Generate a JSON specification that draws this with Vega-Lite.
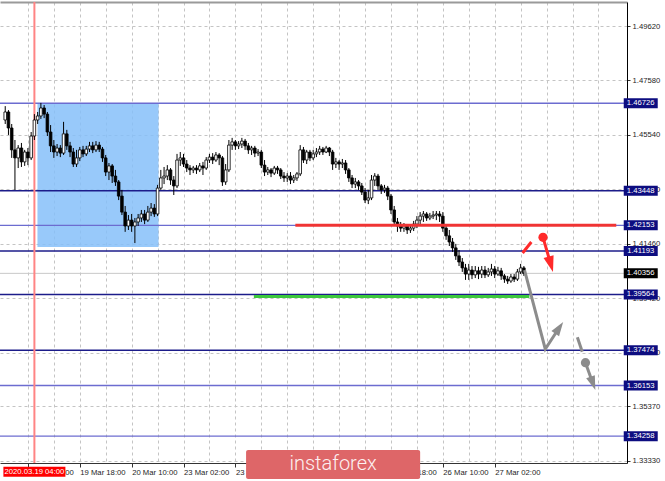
{
  "$schema": "https://vega.github.io/schema/vega-lite/v6.json",
  "width": 627,
  "height": 461,
  "autosize": {"type": "none"},
  "padding": {"left": 0, "top": 2, "right": 38, "bottom": 18},
  "background": "white",
  "config": {
    "view": {"stroke": null},
    "axis": {"labelFont": "Liberation Sans", "labelFontSize": 7.7, "labelColor": "#1e1e1e", "title": null}
  },
  "datasets": {
    "bars": [
      {"t":-7,"o":1.4610,"h":1.4662,"l":1.4595,"c":1.4640},
      {"t":-6,"o":1.4640,"h":1.4647,"l":1.4554,"c":1.4580},
      {"t":-5,"o":1.4580,"h":1.4595,"l":1.4468,"c":1.4498},
      {"t":-4,"o":1.4498,"h":1.4535,"l":1.4348,"c":1.4468},
      {"t":-3,"o":1.4468,"h":1.4516,"l":1.4430,"c":1.4505},
      {"t":-2,"o":1.4505,"h":1.4524,"l":1.4434,"c":1.4453},
      {"t":-1,"o":1.4453,"h":1.4498,"l":1.4438,"c":1.4490},
      {"t":0,"o":1.4490,"h":1.4505,"l":1.4441,"c":1.4468},
      {"t":1,"o":1.4468,"h":1.4565,"l":1.4460,"c":1.4550},
      {"t":2,"o":1.4550,"h":1.4632,"l":1.4535,"c":1.4610},
      {"t":3,"o":1.4610,"h":1.4640,"l":1.4595,"c":1.4625},
      {"t":4,"o":1.4625,"h":1.4674,"l":1.4614,"c":1.4655},
      {"t":5,"o":1.4655,"h":1.4666,"l":1.4617,"c":1.4632},
      {"t":6,"o":1.4632,"h":1.4640,"l":1.4550,"c":1.4565},
      {"t":7,"o":1.4565,"h":1.4591,"l":1.4490,"c":1.4513},
      {"t":8,"o":1.4513,"h":1.4535,"l":1.4468,"c":1.4490},
      {"t":9,"o":1.4490,"h":1.4520,"l":1.4475,"c":1.4505},
      {"t":10,"o":1.4505,"h":1.4516,"l":1.4471,"c":1.4486},
      {"t":11,"o":1.4486,"h":1.4603,"l":1.4479,"c":1.4558},
      {"t":12,"o":1.4558,"h":1.4573,"l":1.4498,"c":1.4513},
      {"t":13,"o":1.4513,"h":1.4528,"l":1.4471,"c":1.4490},
      {"t":14,"o":1.4490,"h":1.4505,"l":1.4434,"c":1.4445},
      {"t":15,"o":1.4445,"h":1.4498,"l":1.4434,"c":1.4468},
      {"t":16,"o":1.4468,"h":1.4509,"l":1.4456,"c":1.4498},
      {"t":17,"o":1.4498,"h":1.4513,"l":1.4471,"c":1.4483},
      {"t":18,"o":1.4483,"h":1.4513,"l":1.4475,"c":1.4501},
      {"t":19,"o":1.4501,"h":1.4528,"l":1.4490,"c":1.4513},
      {"t":20,"o":1.4513,"h":1.4528,"l":1.4486,"c":1.4498},
      {"t":21,"o":1.4498,"h":1.4531,"l":1.4490,"c":1.4516},
      {"t":22,"o":1.4516,"h":1.4528,"l":1.4490,"c":1.4501},
      {"t":23,"o":1.4501,"h":1.4509,"l":1.4453,"c":1.4468},
      {"t":24,"o":1.4468,"h":1.4479,"l":1.4400,"c":1.4415},
      {"t":25,"o":1.4415,"h":1.4449,"l":1.4385,"c":1.4438},
      {"t":26,"o":1.4438,"h":1.4445,"l":1.4374,"c":1.4400},
      {"t":27,"o":1.4400,"h":1.4423,"l":1.4363,"c":1.4378},
      {"t":28,"o":1.4378,"h":1.4385,"l":1.4310,"c":1.4325},
      {"t":29,"o":1.4325,"h":1.4348,"l":1.4254,"c":1.4265},
      {"t":30,"o":1.4265,"h":1.4288,"l":1.4191,"c":1.4213},
      {"t":31,"o":1.4213,"h":1.4254,"l":1.4198,"c":1.4235},
      {"t":32,"o":1.4235,"h":1.4258,"l":1.4191,"c":1.4213},
      {"t":33,"o":1.4213,"h":1.4243,"l":1.4149,"c":1.4228},
      {"t":34,"o":1.4228,"h":1.4258,"l":1.4213,"c":1.4243},
      {"t":35,"o":1.4243,"h":1.4273,"l":1.4228,"c":1.4258},
      {"t":36,"o":1.4258,"h":1.4273,"l":1.4220,"c":1.4235},
      {"t":37,"o":1.4235,"h":1.4288,"l":1.4228,"c":1.4265},
      {"t":38,"o":1.4265,"h":1.4299,"l":1.4250,"c":1.4280},
      {"t":39,"o":1.4280,"h":1.4295,"l":1.4247,"c":1.4258},
      {"t":40,"o":1.4258,"h":1.4367,"l":1.4250,"c":1.4355},
      {"t":41,"o":1.4355,"h":1.4423,"l":1.4348,"c":1.4393},
      {"t":42,"o":1.4393,"h":1.4434,"l":1.4370,"c":1.4400},
      {"t":43,"o":1.4400,"h":1.4441,"l":1.4385,"c":1.4423},
      {"t":44,"o":1.4423,"h":1.4430,"l":1.4367,"c":1.4385},
      {"t":45,"o":1.4385,"h":1.4400,"l":1.4329,"c":1.4363},
      {"t":46,"o":1.4363,"h":1.4483,"l":1.4355,"c":1.4460},
      {"t":47,"o":1.4460,"h":1.4490,"l":1.4438,"c":1.4468},
      {"t":48,"o":1.4468,"h":1.4483,"l":1.4434,"c":1.4445},
      {"t":49,"o":1.4445,"h":1.4460,"l":1.4415,"c":1.4430},
      {"t":50,"o":1.4430,"h":1.4441,"l":1.4404,"c":1.4423},
      {"t":51,"o":1.4423,"h":1.4438,"l":1.4411,"c":1.4430},
      {"t":52,"o":1.4430,"h":1.4441,"l":1.4408,"c":1.4423},
      {"t":53,"o":1.4423,"h":1.4449,"l":1.4415,"c":1.4438},
      {"t":54,"o":1.4438,"h":1.4453,"l":1.4404,"c":1.4430},
      {"t":55,"o":1.4430,"h":1.4471,"l":1.4423,"c":1.4460},
      {"t":56,"o":1.4460,"h":1.4483,"l":1.4449,"c":1.4471},
      {"t":57,"o":1.4471,"h":1.4486,"l":1.4445,"c":1.4460},
      {"t":58,"o":1.4460,"h":1.4490,"l":1.4453,"c":1.4479},
      {"t":59,"o":1.4479,"h":1.4486,"l":1.4441,"c":1.4468},
      {"t":60,"o":1.4468,"h":1.4475,"l":1.4363,"c":1.4378},
      {"t":61,"o":1.4378,"h":1.4445,"l":1.4367,"c":1.4423},
      {"t":62,"o":1.4423,"h":1.4535,"l":1.4415,"c":1.4516},
      {"t":63,"o":1.4516,"h":1.4543,"l":1.4498,"c":1.4528},
      {"t":64,"o":1.4528,"h":1.4535,"l":1.4498,"c":1.4513},
      {"t":65,"o":1.4513,"h":1.4531,"l":1.4501,"c":1.4520},
      {"t":66,"o":1.4520,"h":1.4543,"l":1.4505,"c":1.4531},
      {"t":67,"o":1.4531,"h":1.4539,"l":1.4498,"c":1.4513},
      {"t":68,"o":1.4513,"h":1.4524,"l":1.4483,"c":1.4498},
      {"t":69,"o":1.4498,"h":1.4513,"l":1.4479,"c":1.4505},
      {"t":70,"o":1.4505,"h":1.4513,"l":1.4471,"c":1.4486},
      {"t":71,"o":1.4486,"h":1.4501,"l":1.4475,"c":1.4490},
      {"t":72,"o":1.4490,"h":1.4498,"l":1.4430,"c":1.4441},
      {"t":73,"o":1.4441,"h":1.4460,"l":1.4400,"c":1.4415},
      {"t":74,"o":1.4415,"h":1.4434,"l":1.4404,"c":1.4423},
      {"t":75,"o":1.4423,"h":1.4430,"l":1.4396,"c":1.4411},
      {"t":76,"o":1.4411,"h":1.4438,"l":1.4404,"c":1.4430},
      {"t":77,"o":1.4430,"h":1.4438,"l":1.4408,"c":1.4423},
      {"t":78,"o":1.4423,"h":1.4430,"l":1.4389,"c":1.4400},
      {"t":79,"o":1.4400,"h":1.4415,"l":1.4378,"c":1.4393},
      {"t":80,"o":1.4393,"h":1.4411,"l":1.4378,"c":1.4400},
      {"t":81,"o":1.4400,"h":1.4415,"l":1.4370,"c":1.4385},
      {"t":82,"o":1.4385,"h":1.4404,"l":1.4374,"c":1.4393},
      {"t":83,"o":1.4393,"h":1.4415,"l":1.4382,"c":1.4408},
      {"t":84,"o":1.4408,"h":1.4516,"l":1.4400,"c":1.4498},
      {"t":85,"o":1.4498,"h":1.4509,"l":1.4449,"c":1.4460},
      {"t":86,"o":1.4460,"h":1.4498,"l":1.4445,"c":1.4490},
      {"t":87,"o":1.4490,"h":1.4498,"l":1.4456,"c":1.4468},
      {"t":88,"o":1.4468,"h":1.4498,"l":1.4460,"c":1.4483},
      {"t":89,"o":1.4483,"h":1.4505,"l":1.4471,"c":1.4490},
      {"t":90,"o":1.4490,"h":1.4513,"l":1.4479,"c":1.4501},
      {"t":91,"o":1.4501,"h":1.4509,"l":1.4479,"c":1.4490},
      {"t":92,"o":1.4490,"h":1.4513,"l":1.4486,"c":1.4505},
      {"t":93,"o":1.4505,"h":1.4509,"l":1.4475,"c":1.4490},
      {"t":94,"o":1.4490,"h":1.4498,"l":1.4423,"c":1.4445},
      {"t":95,"o":1.4445,"h":1.4468,"l":1.4430,"c":1.4453},
      {"t":96,"o":1.4453,"h":1.4460,"l":1.4423,"c":1.4445},
      {"t":97,"o":1.4445,"h":1.4464,"l":1.4430,"c":1.4449},
      {"t":98,"o":1.4449,"h":1.4460,"l":1.4408,"c":1.4423},
      {"t":99,"o":1.4423,"h":1.4430,"l":1.4378,"c":1.4393},
      {"t":100,"o":1.4393,"h":1.4404,"l":1.4355,"c":1.4370},
      {"t":101,"o":1.4370,"h":1.4393,"l":1.4355,"c":1.4378},
      {"t":102,"o":1.4378,"h":1.4385,"l":1.4348,"c":1.4363},
      {"t":103,"o":1.4363,"h":1.4374,"l":1.4329,"c":1.4340},
      {"t":104,"o":1.4340,"h":1.4355,"l":1.4299,"c":1.4310},
      {"t":105,"o":1.4310,"h":1.4348,"l":1.4295,"c":1.4318},
      {"t":106,"o":1.4318,"h":1.4404,"l":1.4310,"c":1.4385},
      {"t":107,"o":1.4385,"h":1.4411,"l":1.4363,"c":1.4400},
      {"t":108,"o":1.4400,"h":1.4408,"l":1.4348,"c":1.4363},
      {"t":109,"o":1.4363,"h":1.4370,"l":1.4333,"c":1.4348},
      {"t":110,"o":1.4348,"h":1.4367,"l":1.4337,"c":1.4355},
      {"t":111,"o":1.4355,"h":1.4363,"l":1.4310,"c":1.4325},
      {"t":112,"o":1.4325,"h":1.4333,"l":1.4258,"c":1.4273},
      {"t":113,"o":1.4273,"h":1.4288,"l":1.4213,"c":1.4228},
      {"t":114,"o":1.4228,"h":1.4243,"l":1.4191,"c":1.4213},
      {"t":115,"o":1.4213,"h":1.4228,"l":1.4191,"c":1.4205},
      {"t":116,"o":1.4205,"h":1.4224,"l":1.4191,"c":1.4213},
      {"t":117,"o":1.4213,"h":1.4220,"l":1.4183,"c":1.4198},
      {"t":118,"o":1.4198,"h":1.4217,"l":1.4187,"c":1.4205},
      {"t":119,"o":1.4205,"h":1.4232,"l":1.4194,"c":1.4220},
      {"t":120,"o":1.4220,"h":1.4250,"l":1.4205,"c":1.4235},
      {"t":121,"o":1.4235,"h":1.4265,"l":1.4220,"c":1.4250},
      {"t":122,"o":1.4250,"h":1.4269,"l":1.4228,"c":1.4258},
      {"t":123,"o":1.4258,"h":1.4265,"l":1.4232,"c":1.4243},
      {"t":124,"o":1.4243,"h":1.4262,"l":1.4235,"c":1.4250},
      {"t":125,"o":1.4250,"h":1.4269,"l":1.4239,"c":1.4254},
      {"t":126,"o":1.4254,"h":1.4269,"l":1.4235,"c":1.4258},
      {"t":127,"o":1.4258,"h":1.4269,"l":1.4228,"c":1.4250},
      {"t":128,"o":1.4250,"h":1.4265,"l":1.4191,"c":1.4205},
      {"t":129,"o":1.4205,"h":1.4220,"l":1.4161,"c":1.4176},
      {"t":130,"o":1.4176,"h":1.4198,"l":1.4138,"c":1.4153},
      {"t":131,"o":1.4153,"h":1.4168,"l":1.4116,"c":1.4131},
      {"t":132,"o":1.4131,"h":1.4146,"l":1.4086,"c":1.4101},
      {"t":133,"o":1.4101,"h":1.4123,"l":1.4063,"c":1.4078},
      {"t":134,"o":1.4078,"h":1.4093,"l":1.4041,"c":1.4056},
      {"t":135,"o":1.4056,"h":1.4071,"l":1.4011,"c":1.4033},
      {"t":136,"o":1.4033,"h":1.4071,"l":1.4011,"c":1.4048},
      {"t":137,"o":1.4048,"h":1.4063,"l":1.4014,"c":1.4030},
      {"t":138,"o":1.4030,"h":1.4063,"l":1.4018,"c":1.4045},
      {"t":139,"o":1.4045,"h":1.4060,"l":1.4014,"c":1.4033},
      {"t":140,"o":1.4033,"h":1.4063,"l":1.4018,"c":1.4048},
      {"t":141,"o":1.4048,"h":1.4063,"l":1.4018,"c":1.4030},
      {"t":142,"o":1.4030,"h":1.4056,"l":1.4022,"c":1.4041},
      {"t":143,"o":1.4041,"h":1.4071,"l":1.4026,"c":1.4052},
      {"t":144,"o":1.4052,"h":1.4063,"l":1.4018,"c":1.4033},
      {"t":145,"o":1.4033,"h":1.4060,"l":1.4026,"c":1.4045},
      {"t":146,"o":1.4045,"h":1.4056,"l":1.4011,"c":1.4026},
      {"t":147,"o":1.4026,"h":1.4033,"l":1.4000,"c":1.4014},
      {"t":148,"o":1.4014,"h":1.4026,"l":1.3996,"c":1.4007},
      {"t":149,"o":1.4007,"h":1.4033,"l":1.4000,"c":1.4022},
      {"t":150,"o":1.4022,"h":1.4033,"l":1.4003,"c":1.4014},
      {"t":151,"o":1.4014,"h":1.4052,"l":1.4007,"c":1.4041},
      {"t":152,"o":1.4041,"h":1.4071,"l":1.4033,"c":1.4056},
      {"t":153,"o":1.4056,"h":1.4063,"l":1.4026,"c":1.40356}
    ],
    "levels": [
      {"p":1.46726,"kind":"minor"},
      {"p":1.43448,"kind":"major"},
      {"p":1.42153,"kind":"minor"},
      {"p":1.41193,"kind":"major"},
      {"p":1.39564,"kind":"major"},
      {"p":1.37474,"kind":"major"},
      {"p":1.36153,"kind":"minor"},
      {"p":1.34258,"kind":"minor"}
    ],
    "last": [{"p":1.40356}],
    "zone": [{"t0":2.94,"t1":40.3,"p0":1.46726,"p1":1.41343}],
    "cursor": [{"t":2,"label":"2020.03.19 04:00"}],
    "segs": [
      {"kind":"resistance","p":1.42153,"t0":82.5,"t1":181.5},
      {"kind":"support","p":1.39489,"t0":69.7,"t1":154.7}
    ],
    "paths": [
      {"id":"alt1","kind":"alt","t":153.2,"p":1.40481},
      {"id":"alt1","kind":"alt","t":159.6,"p":1.37523},
      {"id":"alt1","kind":"alt","t":163.9,"p":1.38317},
      {"id":"sell1","kind":"sell","t":152.6,"p":1.41118},
      {"id":"sell1","kind":"sell","t":155.3,"p":1.41530},
      {"id":"sell2","kind":"sell","t":158.9,"p":1.41706},
      {"id":"sell2","kind":"sell","t":161.3,"p":1.40695},
      {"id":"alt2","kind":"alt","t":169.5,"p":1.37961},
      {"id":"alt2","kind":"alt","t":171.0,"p":1.37421},
      {"id":"alt3","kind":"alt","t":172.0,"p":1.37010},
      {"id":"alt3","kind":"alt","t":174.3,"p":1.36234}
    ],
    "dots": [
      {"kind":"sell","t":158.9,"p":1.41706},
      {"kind":"alt","t":172.0,"p":1.37010}
    ],
    "heads": [
      {"id":"up","kind":"alt","t":163.9,"p":1.38317},
      {"id":"sell","kind":"sell","t":161.3,"p":1.40695},
      {"id":"down","kind":"alt","t":174.3,"p":1.36234}
    ],
    "brand": [{"name":"instaforex","t0":67.3,"t1":121.0,"p0":1.33740,"p1":1.32654}]
  },
  "resolve": {"axis": {"x": "independent"}},
  "layer": [
    {
      "data": {"name": "zone"},
      "mark": {"type": "rect", "color": "#86bff9", "opacity": 0.85},
      "encoding": {
        "x": {"field": "t0", "type": "quantitative", "scale": {"domain": [-7.07, 183.27], "nice": false, "zero": false}, "axis": null},
        "x2": {"field": "t1"},
        "y": {"field": "p0", "type": "quantitative", "scale": {"domain": [1.33253, 1.50519], "nice": false, "zero": false},
              "axis": {"orient": "right", "title": null, "values": [1.3333,1.3435,1.3537,1.3638,1.3739,1.384,1.3942,1.4044,1.4146,1.4248,1.435,1.4452,1.4554,1.4656,1.4758,1.486,1.4962],
                       "format": ".5f", "tickSize": 3, "tickColor": "#333", "labelPadding": 2, "labelFlush": false, "labelBound": false, "labelOverlap": false,
                       "domainColor": "#000", "grid": true, "gridDash": [3, 3], "gridColor": "#c4c4c4"}},
        "y2": {"field": "p1"}
      }
    },
    {
      "data": {"name": "last"},
      "mark": {"type": "rule", "color": "#c8c8c8", "strokeWidth": 1},
      "encoding": {
        "y": {"field": "p", "type": "quantitative", "scale": {"domain": [1.33253, 1.50519], "nice": false, "zero": false}}
      }
    },
    {
      "data": {"name": "levels"},
      "mark": {"type": "rule", "strokeWidth": 1.4},
      "encoding": {
        "y": {"field": "p", "type": "quantitative", "scale": {"domain": [1.33253, 1.50519], "nice": false, "zero": false}},
        "color": {"condition": {"test": "datum.kind === 'major'", "value": "#1c1c8a"}, "value": "#6c6cd0"}
      }
    },
    {
      "data": {"name": "cursor"},
      "mark": {"type": "rule", "color": "#ff8484", "strokeWidth": 2},
      "encoding": {
        "x": {"field": "t", "type": "quantitative", "scale": {"domain": [-7.07, 183.27], "nice": false, "zero": false},
              "axis": {"orient": "top", "labels": false, "ticks": false, "grid": false, "domainColor": "#9a9a9a", "domainWidth": 2}}
      }
    },
    {
      "data": {"name": "bars"},
      "mark": {"type": "rule", "color": "#000", "strokeWidth": 1},
      "encoding": {
        "x": {"field": "t", "type": "quantitative", "scale": {"domain": [-7.07, 183.27], "nice": false, "zero": false},
              "axis": {"orient": "bottom", "values": [0,8,16,24,32,40,48,56,64,72,80,88,96,104,112,120,128,136,144,152,160,168,176],
                       "labelExpr": "datum.value % 16 === 0 && datum.value <= 144 ? ['19 Mar 02:00','19 Mar 18:00','20 Mar 10:00','23 Mar 02:00','23 Mar 18:00','24 Mar 10:00','25 Mar 02:00','25 Mar 18:00','26 Mar 10:00','27 Mar 02:00'][datum.value / 16] : ''",
                       "labelAlign": "left", "labelFlush": false, "labelBound": false, "labelOverlap": false, "labelPadding": 1,
                       "tickSize": 4, "tickColor": {"condition": {"test": "datum.value % 16 === 0 && datum.value <= 144", "value": "#333"}, "value": "transparent"},
                       "domainColor": "#333", "grid": true, "gridDash": [3, 3], "gridColor": "#c4c4c4"}},
        "y": {"field": "l", "type": "quantitative", "scale": {"domain": [1.33253, 1.50519], "nice": false, "zero": false}},
        "y2": {"field": "h"}
      }
    },
    {
      "data": {"name": "bars"},
      "mark": {"type": "bar", "size": 2.6, "stroke": "#000", "strokeWidth": 0.8},
      "encoding": {
        "x": {"field": "t", "type": "quantitative", "scale": {"domain": [-7.07, 183.27], "nice": false, "zero": false}, "axis": null},
        "y": {"field": "o", "type": "quantitative", "scale": {"domain": [1.33253, 1.50519], "nice": false, "zero": false}},
        "y2": {"field": "c"},
        "fill": {"condition": {"test": "datum.c >= datum.o", "value": "#ffffff"}, "value": "#000000"}
      }
    },
    {
      "data": {"name": "segs"},
      "mark": {"type": "rule", "strokeWidth": 3},
      "encoding": {
        "x": {"field": "t0", "type": "quantitative", "scale": {"domain": [-7.07, 183.27], "nice": false, "zero": false}, "axis": null},
        "x2": {"field": "t1"},
        "y": {"field": "p", "type": "quantitative", "scale": {"domain": [1.33253, 1.50519], "nice": false, "zero": false}},
        "color": {"condition": {"test": "datum.kind === 'support'", "value": "#3cc83c"}, "value": "#f03434"}
      }
    },
    {
      "data": {"name": "paths"},
      "mark": {"type": "line", "strokeWidth": 3, "strokeJoin": "miter"},
      "encoding": {
        "x": {"field": "t", "type": "quantitative", "scale": {"domain": [-7.07, 183.27], "nice": false, "zero": false}, "axis": null},
        "y": {"field": "p", "type": "quantitative", "scale": {"domain": [1.33253, 1.50519], "nice": false, "zero": false}},
        "detail": {"field": "id"},
        "color": {"condition": {"test": "datum.kind === 'sell'", "value": "#ff2a2a"}, "value": "#8c8c8c"}
      }
    },
    {
      "data": {"name": "dots"},
      "mark": {"type": "point", "shape": "circle", "filled": true, "size": 85, "opacity": 1},
      "encoding": {
        "x": {"field": "t", "type": "quantitative", "scale": {"domain": [-7.07, 183.27], "nice": false, "zero": false}, "axis": null},
        "y": {"field": "p", "type": "quantitative", "scale": {"domain": [1.33253, 1.50519], "nice": false, "zero": false}},
        "color": {"condition": {"test": "datum.kind === 'sell'", "value": "#ff2a2a"}, "value": "#8c8c8c"}
      }
    },
    {
      "data": {"name": "heads"},
      "transform": [{"filter": "datum.id === 'up'"}],
      "mark": {"type": "point", "shape": "M0,-1L0.65,1L-0.65,1Z", "filled": true, "size": 200, "angle": 34, "opacity": 1, "color": "#8c8c8c"},
      "encoding": {
        "x": {"field": "t", "type": "quantitative", "scale": {"domain": [-7.07, 183.27], "nice": false, "zero": false}, "axis": null},
        "y": {"field": "p", "type": "quantitative", "scale": {"domain": [1.33253, 1.50519], "nice": false, "zero": false}}
      }
    },
    {
      "data": {"name": "heads"},
      "transform": [{"filter": "datum.id === 'sell'"}],
      "mark": {"type": "point", "shape": "M0,-1L0.65,1L-0.65,1Z", "filled": true, "size": 256, "angle": 164, "opacity": 1, "color": "#ff2a2a"},
      "encoding": {
        "x": {"field": "t", "type": "quantitative", "scale": {"domain": [-7.07, 183.27], "nice": false, "zero": false}, "axis": null},
        "y": {"field": "p", "type": "quantitative", "scale": {"domain": [1.33253, 1.50519], "nice": false, "zero": false}}
      }
    },
    {
      "data": {"name": "heads"},
      "transform": [{"filter": "datum.id === 'down'"}],
      "mark": {"type": "point", "shape": "M0,-1L0.65,1L-0.65,1Z", "filled": true, "size": 200, "angle": 160, "opacity": 1, "color": "#8c8c8c"},
      "encoding": {
        "x": {"field": "t", "type": "quantitative", "scale": {"domain": [-7.07, 183.27], "nice": false, "zero": false}, "axis": null},
        "y": {"field": "p", "type": "quantitative", "scale": {"domain": [1.33253, 1.50519], "nice": false, "zero": false}}
      }
    },
    {
      "data": {"name": "levels"},
      "mark": {"type": "rect", "width": 34, "height": 10, "color": "#0d0d80", "clip": false},
      "encoding": {
        "x": {"datum": 189.05, "type": "quantitative", "scale": {"domain": [-7.07, 183.27], "nice": false, "zero": false}, "axis": null},
        "y": {"field": "p", "type": "quantitative", "scale": {"domain": [1.33253, 1.50519], "nice": false, "zero": false}}
      }
    },
    {
      "data": {"name": "levels"},
      "mark": {"type": "text", "color": "#ffffff", "font": "Liberation Sans", "fontSize": 7.7, "align": "center", "baseline": "middle", "clip": false},
      "encoding": {
        "x": {"datum": 189.05, "type": "quantitative", "scale": {"domain": [-7.07, 183.27], "nice": false, "zero": false}, "axis": null},
        "y": {"field": "p", "type": "quantitative", "scale": {"domain": [1.33253, 1.50519], "nice": false, "zero": false}},
        "text": {"field": "p", "format": ".5f"}
      }
    },
    {
      "data": {"name": "last"},
      "mark": {"type": "rect", "width": 34, "height": 10, "color": "#000000", "clip": false},
      "encoding": {
        "x": {"datum": 189.05, "type": "quantitative", "scale": {"domain": [-7.07, 183.27], "nice": false, "zero": false}, "axis": null},
        "y": {"field": "p", "type": "quantitative", "scale": {"domain": [1.33253, 1.50519], "nice": false, "zero": false}}
      }
    },
    {
      "data": {"name": "last"},
      "mark": {"type": "text", "color": "#ffffff", "font": "Liberation Sans", "fontSize": 7.7, "align": "center", "baseline": "middle", "clip": false},
      "encoding": {
        "x": {"datum": 189.05, "type": "quantitative", "scale": {"domain": [-7.07, 183.27], "nice": false, "zero": false}, "axis": null},
        "y": {"field": "p", "type": "quantitative", "scale": {"domain": [1.33253, 1.50519], "nice": false, "zero": false}},
        "text": {"field": "p", "format": ".5f"}
      }
    },
    {
      "data": {"name": "cursor"},
      "mark": {"type": "rect", "width": 62, "height": 10, "color": "#ff0000", "clip": false},
      "encoding": {
        "x": {"field": "t", "type": "quantitative", "scale": {"domain": [-7.07, 183.27], "nice": false, "zero": false}, "axis": null},
        "y": {"datum": 1.32927, "type": "quantitative", "scale": {"domain": [1.33253, 1.50519], "nice": false, "zero": false}}
      }
    },
    {
      "data": {"name": "cursor"},
      "mark": {"type": "text", "color": "#ffffff", "font": "Liberation Sans", "fontSize": 7.7, "align": "center", "baseline": "middle", "clip": false},
      "encoding": {
        "x": {"field": "t", "type": "quantitative", "scale": {"domain": [-7.07, 183.27], "nice": false, "zero": false}, "axis": null},
        "y": {"datum": 1.32927, "type": "quantitative", "scale": {"domain": [1.33253, 1.50519], "nice": false, "zero": false}},
        "text": {"field": "label"}
      }
    },
    {
      "data": {"name": "brand"},
      "mark": {"type": "rect", "color": "#de6668", "cornerRadius": 2, "clip": false},
      "encoding": {
        "x": {"field": "t0", "type": "quantitative", "scale": {"domain": [-7.07, 183.27], "nice": false, "zero": false}, "axis": null},
        "x2": {"field": "t1"},
        "y": {"field": "p0", "type": "quantitative", "scale": {"domain": [1.33253, 1.50519], "nice": false, "zero": false}},
        "y2": {"field": "p1"}
      }
    },
    {
      "data": {"name": "brand"},
      "transform": [{"calculate": "(datum.t0 + datum.t1) / 2", "as": "tc"}, {"calculate": "(datum.p0 + datum.p1) / 2", "as": "pc"}],
      "mark": {"type": "text", "color": "#fdf0f0", "font": "Roboto", "fontWeight": 300, "fontSize": 20, "align": "center", "baseline": "middle", "clip": false},
      "encoding": {
        "x": {"field": "tc", "type": "quantitative", "scale": {"domain": [-7.07, 183.27], "nice": false, "zero": false}, "axis": null},
        "y": {"field": "pc", "type": "quantitative", "scale": {"domain": [1.33253, 1.50519], "nice": false, "zero": false}},
        "text": {"field": "name"}
      }
    }
  ]
}
